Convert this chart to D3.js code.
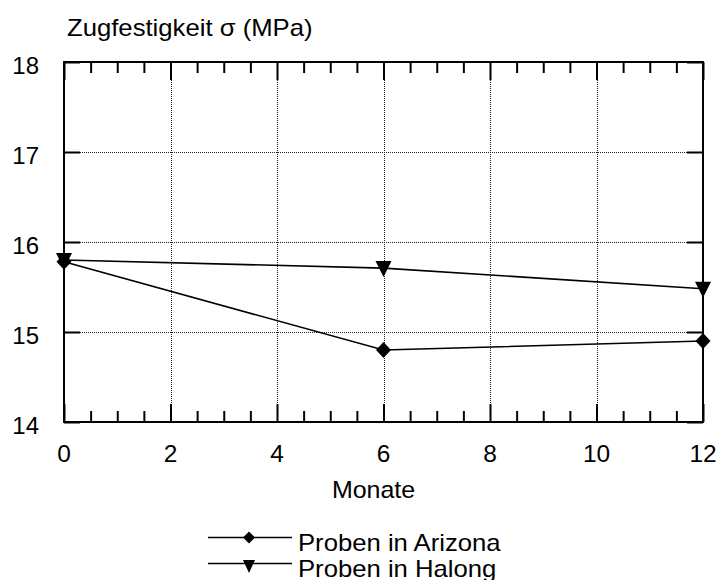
<!DOCTYPE html>
<html>
<head>
<meta charset="utf-8">
<script src="https://cdn.jsdelivr.net/npm/d3@7"></script>
<style>
  html, body { margin: 0; padding: 0; background: #fff; }
  svg { display: block; font-family: "Liberation Sans", Arial, sans-serif; }
</style>
</head>
<body>
<svg id="chart" width="719" height="580"></svg>
<script>
// Tensile strength over exposure time
const months = [0, 6, 12];
const arizona = [15.78, 14.8, 14.9];
const halong = [15.8, 15.71, 15.48];
const xTicks = [0, 2, 4, 6, 8, 10, 12];
const yTicks = [14, 15, 16, 17, 18];
const seriesNames = ["Proben in Arizona", "Proben in Halong"];
const yTitle = "Zugfestigkeit σ (MPa)";
const xTitle = "Monate";

const svg = d3.select("#chart");
const plotL = 64, plotR = 703, plotT = 62, plotB = 422;

const x = d3.scaleLinear().domain([0, 12]).range([plotL, plotR]);
const y = d3.scaleLinear().domain([14, 18]).range([plotB, plotT]);

// text helper: slightly widened Arial-style lettering
function label(parent, px, py, str, size, sx, anchor) {
  return parent.append("text")
    .attr("transform", `translate(${px},${py}) scale(${sx},1)`)
    .attr("text-anchor", anchor || "start")
    .attr("font-size", size).attr("fill", "#000").text(str);
}

// dotted grid
const grid = svg.append("g").attr("stroke", "#222").attr("stroke-width", 1)
  .attr("stroke-dasharray", "1,1");
grid.selectAll(".gx").data(xTicks.slice(1, -1)).join("line")
  .attr("x1", d => Math.round(x(d)) + 0.5).attr("x2", d => Math.round(x(d)) + 0.5)
  .attr("y1", plotT).attr("y2", plotB);
grid.selectAll(".gy").data(yTicks.slice(1, -1)).join("line")
  .attr("y1", d => Math.round(y(d)) + 0.5).attr("y2", d => Math.round(y(d)) + 0.5)
  .attr("x1", plotL).attr("x2", plotR);

// frame with inward ticks on all four sides
const axisStyle = g => g.call(s => s.select(".domain").remove())
  .selectAll("line").attr("stroke", "#000").attr("stroke-width", 2);
const minor = d3.range(0, 12.01, 0.5).filter(v => v % 2 !== 0);

svg.append("g").attr("transform", `translate(0,${plotB})`)
  .call(d3.axisTop(x).tickValues(xTicks).tickSize(18).tickFormat(""))
  .call(axisStyle);
svg.append("g").attr("transform", `translate(0,${plotB})`)
  .call(d3.axisTop(x).tickValues(minor).tickSize(11).tickFormat(""))
  .call(axisStyle);
svg.append("g").attr("transform", `translate(0,${plotT})`)
  .call(d3.axisBottom(x).tickValues(xTicks).tickSize(18).tickFormat(""))
  .call(axisStyle);
svg.append("g").attr("transform", `translate(0,${plotT})`)
  .call(d3.axisBottom(x).tickValues(minor).tickSize(11).tickFormat(""))
  .call(axisStyle);
svg.append("g").attr("transform", `translate(${plotL},0)`)
  .call(d3.axisRight(y).tickValues(yTicks).tickSize(16).tickFormat(""))
  .call(axisStyle);
svg.append("g").attr("transform", `translate(${plotR},0)`)
  .call(d3.axisLeft(y).tickValues(yTicks).tickSize(16).tickFormat(""))
  .call(axisStyle);

svg.append("rect").attr("x", plotL).attr("y", plotT)
  .attr("width", plotR - plotL).attr("height", plotB - plotT)
  .attr("fill", "none").attr("stroke", "#000").attr("stroke-width", 2);

// tick labels
const tl = svg.append("g");
xTicks.forEach(t => label(tl, x(t), 462, t, 24, 1.02, "middle"));
yTicks.forEach(t => label(tl, 39, y(t) + 12, t, 24, 1.0, "end"));

// titles
label(svg, 67, 36, yTitle, 24, 1.07);
label(svg, 373.5, 498, xTitle, 24, 1.04, "middle");

// marker shapes (centred on the data point)
const diamond = (w, h) => ({ draw(ctx) {
  ctx.moveTo(0, -h / 2); ctx.lineTo(w / 2, 0); ctx.lineTo(0, h / 2); ctx.lineTo(-w / 2, 0); ctx.closePath();
}});
const triDown = (w, h) => ({ draw(ctx) {
  ctx.moveTo(-w / 2, -h / 2); ctx.lineTo(w / 2, -h / 2); ctx.lineTo(0, h / 2); ctx.closePath();
}});

// series
const line = d3.line().x((d, i) => x(months[i])).y(d => y(d));
const data = [arizona, halong];
const plotSymbols = [diamond(15, 16), triDown(16, 16)];
const legSymbols = [diamond(12, 12), triDown(12, 13)];

data.forEach((vals, k) => {
  svg.append("path").datum(vals).attr("d", line)
    .attr("fill", "none").attr("stroke", "#000").attr("stroke-width", 1.6);
  svg.append("g").selectAll("path").data(vals).join("path")
    .attr("d", d3.symbol().type(plotSymbols[k])())
    .attr("transform", (d, i) => `translate(${x(months[i])},${y(d) + (k === 1 ? 1 : 0)})`)
    .attr("fill", "#000");
});

// legend
const legY = [537.5, 563.5];
seriesNames.forEach((name, k) => {
  const g = svg.append("g");
  g.append("line").attr("x1", 208).attr("x2", 292)
    .attr("y1", legY[k]).attr("y2", legY[k]).attr("stroke", "#000").attr("stroke-width", 1.6);
  g.append("path").attr("d", d3.symbol().type(legSymbols[k])())
    .attr("transform", `translate(249,${legY[k] + (k === 1 ? 3 : 0)})`)
    .attr("fill", "#000");
  label(g, 298, legY[k] + 13, name, 24, 1.07);
});
</script>
</body>
</html>
